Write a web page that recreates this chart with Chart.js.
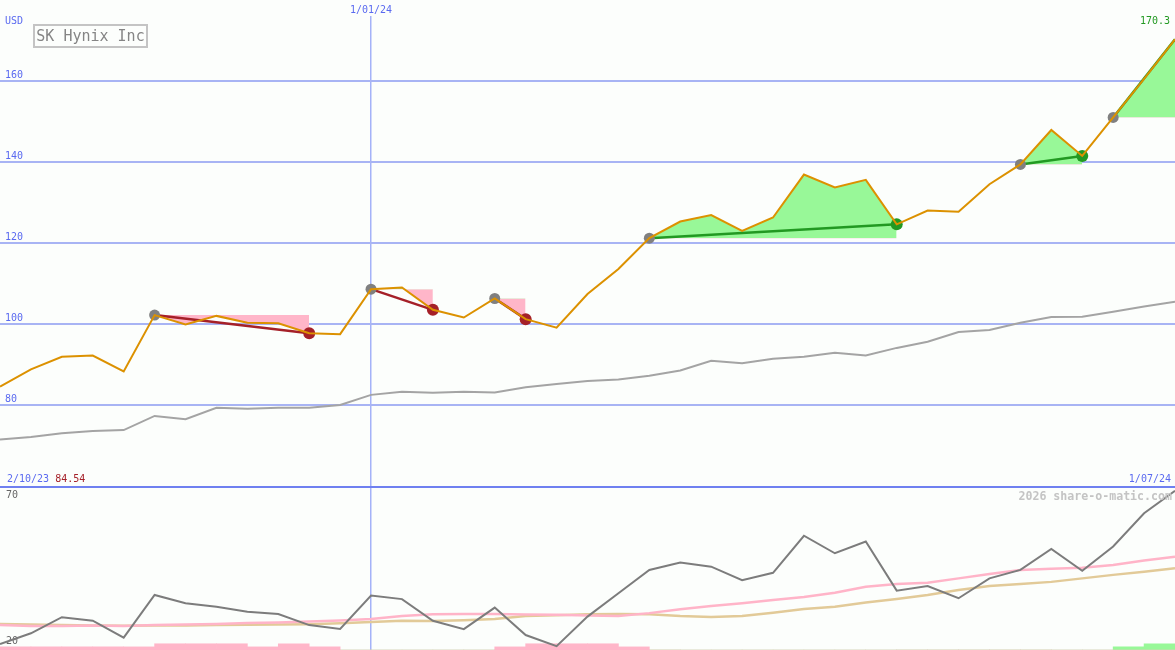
<!DOCTYPE html>
<html lang="en">

<head>
    <meta charset="UTF-8">
    <title>SK Hynix Inc</title>
    <script src="https://cdn.jsdelivr.net/npm/chart.js"></script>
    <style>
        body {
            margin: 0;
            background: #fcfefc;
            font-family: 'DejaVu Sans Mono', monospace;
        }

        .wrap {
            position: relative;
            width: 1175px;
            height: 650px;
            overflow: hidden;
            background: #fcfefc;
        }

        canvas {
            position: absolute;
            left: 0;
        }

        #priceChart { top: 0; }
        #oscChart { top: 488px; }

        .sep {
            position: absolute;
            left: 0;
            top: 486px;
            width: 1175px;
            height: 2px;
            background: #6f80f0;
        }

        .lbl {
            position: absolute;
            font-size: 10px;
            line-height: 12px;
            white-space: nowrap;
        }

        .blue { color: #5a6af0; }

        .title {
            position: absolute;
            left: 33px;
            top: 24px;
            width: 111px;
            height: 20px;
            border: 2px solid #c4c4c4;
            color: #858585;
            font-size: 15px;
            line-height: 20px;
            text-align: center;
        }

        .mark {
            position: absolute;
            right: 3px;
            top: 489px;
            font-size: 11.6px;
            line-height: 14px;
            font-weight: bold;
            color: #c4c4c4;
        }
    </style>
</head>

<body>
    <div class="wrap">
        <canvas id="priceChart" width="1175" height="486"></canvas>
        <div class="sep"></div>
        <canvas id="oscChart" width="1175" height="162"></canvas>

        <div class="lbl blue" style="left:5px; top:15px;">USD</div>
        <div class="title">SK Hynix Inc</div>
        <div class="lbl" style="right:5px; top:15px; color:#229922;">170.3</div>
        <div class="lbl" style="left:7px; top:473px;"><span class="blue">2/10/23</span> <span style="color:#a52028;">84.54</span></div>
        <div class="lbl blue" style="right:4px; top:473px;">1/07/24</div>
        <div class="mark">2026 share-o-matic.com</div>
    </div>

    <script>
        // weekly closes, index 0 = first week on the chart
        const price = [84.54, 88.8, 91.9, 92.2, 88.3, 102.2, 99.9, 102.0, 100.3, 100.2,
            97.7, 97.5, 108.6, 109.0, 103.5, 101.6, 106.3, 101.2, 99.1, 107.4,
            113.6, 121.2, 125.3, 126.9, 123.0, 126.3, 136.9, 133.7, 135.6, 124.6,
            128.0, 127.7, 134.5, 139.4, 147.9, 141.5, 151.0, 160.5, 170.3];
        const priceAvg = [71.5, 72.1, 73.0, 73.6, 73.8, 77.3, 76.5, 79.3, 79.1, 79.3,
            79.3, 80.0, 82.5, 83.3, 83.0, 83.3, 83.1, 84.4, 85.2, 85.9,
            86.3, 87.2, 88.5, 90.9, 90.3, 91.4, 91.9, 92.9, 92.2, 94.1,
            95.6, 98.0, 98.5, 100.3, 101.7, 101.8, 103.0, 104.3, 105.5];

        // lower panel
        const oscMain = [21.0, 24.7, 30.2, 29.0, 23.2, 37.8, 35.0, 33.8, 32.1, 31.3,
            27.5, 26.2, 37.6, 36.4, 29.0, 26.1, 33.5, 24.1, 20.3, 30.4,
            38.4, 46.4, 48.9, 47.5, 42.9, 45.4, 58.1, 52.1, 56.1, 39.3,
            40.9, 36.7, 43.5, 46.4, 53.6, 46.1, 54.4, 65.8, 73.5];
        const oscPink = [27.5, 27.2, 27.2, 27.4, 27.2, 27.5, 27.7, 27.9, 28.2, 28.4,
            28.7, 29.1, 29.6, 30.6, 31.2, 31.3, 31.3, 31.1, 31.0, 30.8,
            30.6, 31.6, 32.9, 34.0, 35.0, 36.1, 37.1, 38.6, 40.6, 41.6,
            42.0, 43.5, 45.0, 46.4, 46.8, 47.1, 48.1, 49.6, 50.9];
        const oscTan = [27.9, 27.7, 27.5, 27.4, 27.3, 27.4, 27.4, 27.5, 27.6, 27.7,
            27.8, 28.1, 28.6, 29.0, 28.9, 29.2, 29.6, 30.6, 30.9, 31.2,
            31.3, 31.2, 30.6, 30.3, 30.6, 31.7, 33.0, 33.8, 35.2, 36.4,
            37.8, 39.5, 40.9, 41.6, 42.3, 43.5, 44.7, 45.8, 47.0];
        // signal bars per week interval (1 = small, 2 = tall)
        const sellBars = [1, 1, 1, 1, 1, 2, 2, 2, 1, 2, 1, 0, 0, 0, 0, 0, 1, 2, 2, 2,
            1, 0, 0, 0, 0, 0, 0, 0, 0, 0, 0, 0, 0, 0, 0, 0, 0, 0];
        const buyBars = [0, 0, 0, 0, 0, 0, 0, 0, 0, 0, 0, 0, 0, 0, 0, 0, 0, 0, 0, 0,
            0, 0, 0, 0, 0, 0, 0, 0, 0, 0, 0, 0, 0, 0, 0, 0, 1, 2];

        // trend segments (start / end week)
        const trendStart = [5, 12, 16, 21, 33, 36];
        const trendEnd = [10, 14, 17, 29, 35, 38];

        const priceTicks = [80, 100, 120, 140, 160];
        const oscTicks = [20, 70];
        const dateTicks = [12];
        const dateLabels = ['1/01/24'];

        const GRID = '#a8b4f4';
        const VGRID = '#a4b2f8';
        const RED = '#a52028';
        const GREEN = '#229922';
        const MONO = "'DejaVu Sans Mono', monospace";
        const lastIdx = price.length - 1;

        const pts = arr => arr.map((v, i) => ({ x: i, y: v }));

        // y axes sit inside the plot, so they take no room at all
        const flatY = axis => {
            axis.width = 0;
            axis.paddingTop = 0;
            axis.paddingBottom = 0;
        };

        // build trend fills + lines
        const trendSets = [];
        trendStart.forEach((a, k) => {
            const b = trendEnd[k];
            const up = price[b] > price[a];
            trendSets.push({
                data: pts(price).slice(a, b + 1),
                borderColor: 'transparent',
                borderWidth: 0,
                pointRadius: 0,
                fill: { target: { value: price[a] }, above: '#98f898', below: '#ffb6c9' },
                order: 3
            });
            trendSets.push({
                data: [{ x: a, y: price[a] }, { x: b, y: price[b] }],
                borderColor: up ? GREEN : RED,
                borderWidth: 2.5,
                pointRadius: [5.5, b === lastIdx ? 0 : 6],
                pointBackgroundColor: ['#808080', up ? GREEN : RED],
                pointBorderWidth: 0,
                fill: false,
                order: 1
            });
        });

        new Chart(document.getElementById('priceChart'), {
            type: 'line',
            data: {
                datasets: [{
                    data: pts(price),
                    borderColor: '#dc9100',
                    borderWidth: 2,
                    pointRadius: 0,
                    fill: false,
                    order: 0
                }, {
                    data: pts(priceAvg),
                    borderColor: '#a4a4a4',
                    borderWidth: 2,
                    pointRadius: 0,
                    fill: false,
                    order: 5
                }].concat(trendSets)
            },
            options: {
                responsive: false,
                animation: false,
                devicePixelRatio: 1,
                layout: { padding: 0, autoPadding: false },
                plugins: { legend: { display: false }, tooltip: { enabled: false } },
                scales: {
                    x: {
                        type: 'linear',
                        position: 'top',
                        min: 0,
                        max: lastIdx,
                        offset: false,
                        afterBuildTicks: axis => { axis.ticks = dateTicks.map(v => ({ value: v })); },
                        afterFit: axis => { axis.height = 16; axis.paddingLeft = 0; axis.paddingRight = 0; },
                        ticks: {
                            padding: 0,
                            color: '#5a6af0',
                            font: { family: MONO, size: 10 },
                            maxRotation: 0,
                            callback: v => dateLabels[dateTicks.indexOf(v)]
                        },
                        grid: { color: VGRID, lineWidth: 1.5, drawTicks: false, offset: false },
                        border: { display: false }
                    },
                    y: {
                        min: 60,
                        max: 176.05,
                        afterBuildTicks: axis => { axis.ticks = priceTicks.map(v => ({ value: v })); },
                        afterFit: flatY,
                        ticks: {
                            mirror: true,
                            padding: 5,
                            labelOffset: -6,
                            color: '#5a6af0',
                            font: { family: MONO, size: 10 }
                        },
                        grid: { color: GRID, lineWidth: 2, drawTicks: false },
                        border: { display: false }
                    }
                }
            }
        });

        new Chart(document.getElementById('oscChart'), {
            type: 'line',
            data: {
                datasets: [{
                    data: pts(oscMain),
                    borderColor: '#7c7c7c',
                    borderWidth: 2,
                    pointRadius: 0,
                    order: 0
                }, {
                    data: pts(oscPink),
                    borderColor: '#ffb4c8',
                    borderWidth: 2.5,
                    pointRadius: 0,
                    order: 1
                }, {
                    data: pts(oscTan),
                    borderColor: '#e2ca98',
                    borderWidth: 2.5,
                    pointRadius: 0,
                    order: 2
                }, {
                    type: 'bar',
                    yAxisID: 'yBar',
                    data: sellBars.map((v, i) => ({ x: i + 0.5, y: v })),
                    backgroundColor: '#ffb6c9',
                    barPercentage: 1,
                    categoryPercentage: 1,
                    grouped: false,
                    order: 4
                }, {
                    type: 'bar',
                    yAxisID: 'yBar',
                    data: buyBars.map((v, i) => ({ x: i + 0.5, y: v })),
                    backgroundColor: '#98f898',
                    barPercentage: 1,
                    categoryPercentage: 1,
                    grouped: false,
                    order: 4
                }]
            },
            options: {
                responsive: false,
                animation: false,
                devicePixelRatio: 1,
                layout: { padding: 0, autoPadding: false },
                plugins: { legend: { display: false }, tooltip: { enabled: false } },
                scales: {
                    x: {
                        type: 'linear',
                        min: 0,
                        max: lastIdx,
                        offset: false,
                        afterBuildTicks: axis => { axis.ticks = dateTicks.map(v => ({ value: v })); },
                        afterFit: axis => { axis.height = 0; axis.paddingLeft = 0; axis.paddingRight = 0; },
                        ticks: { display: false },
                        grid: { color: VGRID, lineWidth: 1.5, drawTicks: false, offset: false },
                        border: { display: false }
                    },
                    y: {
                        min: 18.97,
                        max: 74.45,
                        afterBuildTicks: axis => { axis.ticks = oscTicks.map(v => ({ value: v })); },
                        afterFit: flatY,
                        ticks: {
                            mirror: true,
                            padding: 6,
                            labelOffset: -6,
                            color: '#666666',
                            font: { family: MONO, size: 10 }
                        },
                        grid: { display: false },
                        border: { display: false }
                    },
                    yBar: {
                        display: false,
                        min: 0,
                        max: 52
                    }
                }
            }
        });
    </script>
</body>

</html>
